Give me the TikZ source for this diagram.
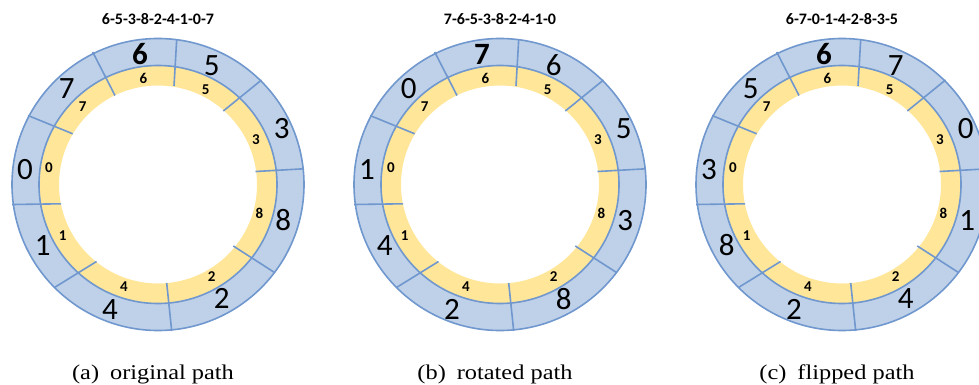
\documentclass[tikz,border=0pt]{standalone}
\usepackage{fontspec}
\setmainfont{Liberation Serif}
\newfontfamily\digitfont{Carlito}
\definecolor{ringblue}{RGB}{190,209,233}
\definecolor{ringedge}{RGB}{112,151,206}
\definecolor{ringyellow}{RGB}{255,230,153}
\tikzset{
  edge/.style={draw=ringedge, line width=1.6pt},
  biglabel/.style={font=\digitfont\fontsize{31}{33}\selectfont, inner sep=0pt},
  smalllabel/.style={font=\digitfont\bfseries\fontsize{15}{17}\selectfont, inner sep=0pt},
  ringtitle/.style={font=\digitfont\bfseries\fontsize{16}{18}\selectfont, inner sep=0pt},
  subcaption/.style={font=\fontsize{21}{23}\selectfont, inner sep=0pt}
}
\newcommand\widecaption[1]{\scalebox{1.16}[1]{#1}}
\begin{document}
\begin{tikzpicture}[x=1pt, y=-1pt]
\useasboundingbox (0,0) rectangle (979,385);
\clip (0,0) rectangle (979,385);
\foreach \cx/\ttl/\labs [count=\r] in {
  158/{6-5-3-8-2-4-1-0-7}/{6,5,3,8,2,4,1,0,7},
  500/{7-6-5-3-8-2-4-1-0}/{7,6,5,3,8,2,4,1,0},
  842/{6-7-0-1-4-2-8-3-5}/{6,7,0,1,4,2,8,3,5}}{
  \begin{scope}[shift={(\cx,184.5)}]
    \coordinate (c\r) at (0,0);
    % outer blue band and inner yellow band
    \fill[ringblue, even odd rule] (c\r) circle[radius=146pt] (c\r) circle[radius=119pt];
    \fill[ringyellow, even odd rule] (c\r) circle[radius=119pt] (c\r) circle[radius=99pt];
    \draw[edge] (c\r) circle[radius=146pt] (c\r) circle[radius=119pt];
    % sector dividers across both bands
    \foreach \ox/\oy/\ix/\iy [count=\k] in {
      18.7/-145/16/-98.5, 103.5/-104.5/65.3/-73.5, 145.8/-15.7/97.5/-13,
      116.5/88/75.3/61.5, 13.7/146.5/8.7/98.5, -103.5/103/-61.5/77,
      -145.8/20/-97/19.3, -130/-69/-85.3/-50.7, -65.3/-132.5/-43/-89}{
      \coordinate (o\r-\k) at (\ox,\oy);
      \coordinate (i\r-\k) at (\ix,\iy);
      \draw[edge] (o\r-\k) -- (i\r-\k);
    }
    % vertex labels on the blue band
    \foreach \d [count=\i] in \labs {
      \pgfmathsetmacro\px{{-18,53.7,123.7,125.3,63.7,-48,-115.3,-133,-91.3}[\i-1]}
      \pgfmathsetmacro\py{{-130,-119,-55.7,36,114.3,125,61,-15,-95.7}[\i-1]}
      \node[biglabel] (big\r-\i) at (\px,\py) {\ifnum\i=1 \bfseries\fi\d};
    }
    % fixed position labels on the yellow band
    \foreach \d/\px/\py [count=\i] in {
      6/-14.7/-106, 5/47.7/-94.7, 3/98/-44.7, 8/101.3/29.3, 2/53.7/92,
      4/-34/102, 1/-95.3/51, 0/-109/-16.7, 7/-75.3/-78}{
      \node[smalllabel] (small\r-\i) at (\px,\py) {\d};
    }
    \node[ringtitle] (title\r) at (0,-165) {\ttl};
  \end{scope}
}
\node[subcaption] (cap1) at (153,374) {\widecaption{(a)\hspace{0.45em}original path}};
\node[subcaption] (cap2) at (495,374) {\widecaption{(b)\hspace{0.45em}rotated path}};
\node[subcaption] (cap3) at (837,374) {\widecaption{(c)\hspace{0.45em}flipped path}};
\end{tikzpicture}
\end{document}
